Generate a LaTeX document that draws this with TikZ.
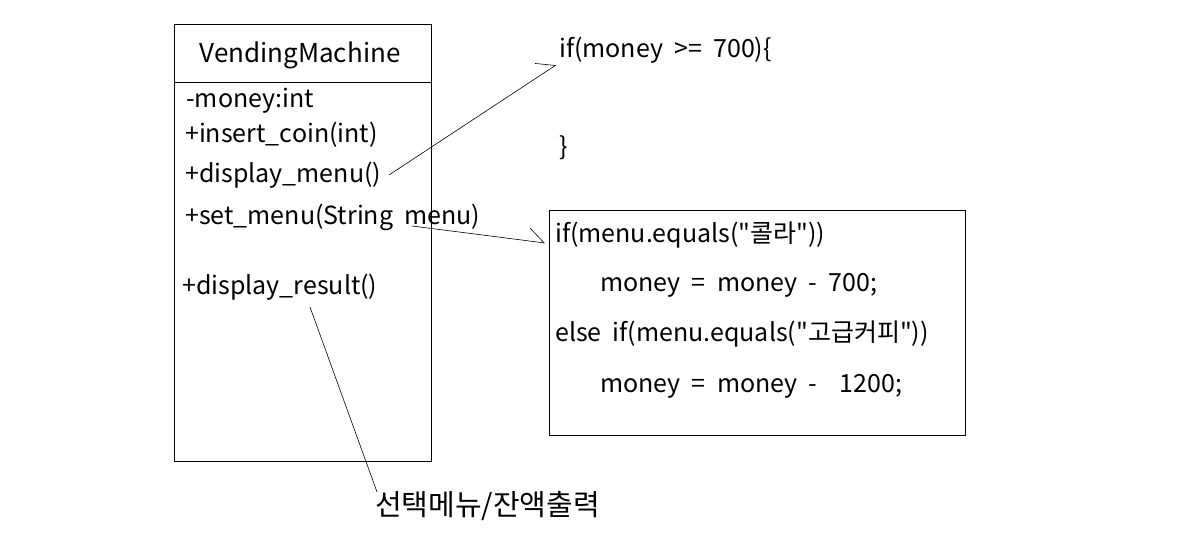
\documentclass[tikz,border=0pt]{standalone}
\usepackage{fontspec}
\setmainfont{Noto Sans CJK KR}[Ligatures=TeXOff, WordSpace=2]
\usetikzlibrary{arrows.meta}
\begin{document}
\begin{tikzpicture}[x=1bp,y=-1bp,
  txt/.style={inner sep=0pt, anchor=base west, font=\fontsize{25bp}{30bp}\selectfont},
  box/.style={draw, line width=0.8bp},
  conn/.style={line width=0.6bp},
  harp/.style={conn, -{Straight Barb[harpoon, length=16bp, width=26bp, line width=0.6bp]}}]
\useasboundingbox (0,0) rectangle (1195,549);
% class box
\node[box, minimum width=257bp, minimum height=437bp, inner sep=0pt, anchor=north west] (cls) at (174,24) {};
\draw[box] (174,82) -- (431,82);
\node[inner sep=0pt, anchor=base, font=\fontsize{26bp}{31bp}\selectfont] (name) at (300,63) {VendingMachine};
\node[txt] (a1) at (186,108) {-money:int};
\node[txt] (a2) at (185,143) {+insert\_coin(int)};
\node[txt] (a3) at (185,183) {+display\_menu()};
\node[txt] (a4) at (185,225) {+set\_menu(String menu)};
\node[txt] (a5) at (182,295) {+display\_result()};
% top code
\node[txt] (c1) at (559,58) {if(money >= 700)\{};
\node[txt] (c2) at (559,156) {\}};
% code box
\node[box, minimum width=416bp, minimum height=225bp, inner sep=0pt, anchor=north west] (code) at (549,210) {};
\node[txt] (d1) at (555,243) {if(menu.equals("콜라"))};
\node[txt] (d2) at (600,292) {money = money - 700;};
\node[txt] (d3) at (555,342) {else if(menu.equals("고급커피"))};
\node[txt] (d4) at (600,392) {money = money -\ \ 1200;};
% bottom label
\node[txt, font=\fontsize{29bp}{34bp}\selectfont] (lbl) at (375,515) {선택메뉴/잔액출력};
% connectors
\coordinate (s1) at (389,175);
\coordinate (t1) at (556,65);
\coordinate (s2) at (412,226);
\coordinate (t2) at (545,243);
\coordinate (s3) at (310,307);
\coordinate (t3) at (377,492);
\draw[harp] (s1) -- (t1);
\draw[harp] (s2) -- (t2);
\draw[conn] (s3) -- (t3);
\end{tikzpicture}
\end{document}
